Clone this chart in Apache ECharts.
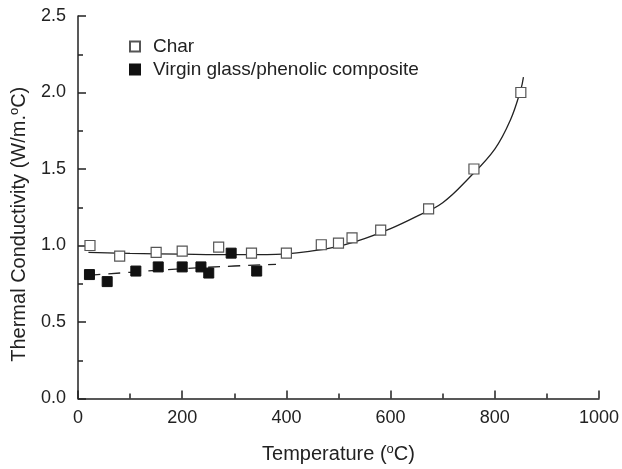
<!DOCTYPE html>
<html>
<head>
<meta charset="utf-8">
<script src="https://cdn.jsdelivr.net/npm/echarts@6/dist/echarts.min.js"></script>
<style>html,body{margin:0;padding:0;background:#fff;}#c{width:622px;height:469px;}</style>
</head>
<body>
<div id="c"></div>
<script>
// Measured data: Char (open squares)
var charData = [[23,1.00],[80,0.93],[150,0.955],[200,0.963],[270,0.99],[333,0.95],[400,0.95],[467,1.005],[500,1.015],[526,1.05],[581,1.10],[673,1.24],[760,1.50],[850,2.00]];
// Virgin glass/phenolic composite (filled squares)
var virginData = [[22,0.81],[56,0.764],[111,0.833],[154,0.86],[200,0.86],[236,0.86],[251,0.82],[294,0.95],[343,0.833]];
// Fit curve for char
var charFit = [[20,0.955],[100,0.948],[200,0.943],[300,0.940],[380,0.942],[450,0.965],[500,0.995],[550,1.045],[600,1.11],[650,1.19],[700,1.28],[750,1.44],[800,1.63],[830,1.82],[850,2.02],[855,2.10]];
// Fit line for virgin
var virginFit = [[20,0.805],[100,0.825],[200,0.848],[300,0.866],[380,0.877]];
var xTicks = [0,200,400,600,800,1000];
var yTicks = [0.0,0.5,1.0,1.5,2.0,2.5];

var FONT = 'Liberation Sans, Arial, sans-serif';
var chart = echarts.init(document.getElementById('c'), null, {renderer:'canvas'});
chart.setOption({
  animation:false,
  backgroundColor:'#fff',
  grid:{left:75,right:22,top:16,bottom:68},
  legend:{
    orient:'vertical', left:124, top:32, itemGap:4, itemWidth:10, itemHeight:10,
    textStyle:{fontFamily:FONT,fontSize:19,color:'#222',padding:[0,0,0,8]},
    data:['Char','Virgin glass/phenolic composite']
  },
  xAxis:{
    type:'value', min:xTicks[0], max:xTicks[xTicks.length-1], interval:200,
    axisLine:{lineStyle:{color:'#222',width:1.5}},
    axisTick:{inside:true,length:8,lineStyle:{color:'#222',width:1.5}},
    minorTick:{show:true,splitNumber:2,length:5,lineStyle:{color:'#222',width:1.5}},
    splitLine:{show:false},
    axisLabel:{fontFamily:FONT,fontSize:18,color:'#222',margin:11,formatter:function(v){return String(v);}},
    name:'{a|Temperature (}{s|o}{a|C)}', nameLocation:'middle', nameGap:44,
    nameTextStyle:{rich:{a:{fontFamily:FONT,fontSize:20,color:'#222'},s:{fontFamily:FONT,fontSize:13,color:'#222',padding:[0,0,10,0]}}}
  },
  yAxis:{
    type:'value', min:yTicks[0], max:yTicks[yTicks.length-1], interval:0.5,
    axisLine:{lineStyle:{color:'#222',width:1.5}},
    axisTick:{inside:true,length:8,lineStyle:{color:'#222',width:1.5}},
    minorTick:{show:true,splitNumber:2,length:5,lineStyle:{color:'#222',width:1.5}},
    splitLine:{show:false},
    axisLabel:{fontFamily:FONT,fontSize:18,color:'#222',margin:12,formatter:function(v){return v.toFixed(1);}},
    name:'{a|Thermal Conductivity (W/m.}{s|o}{a|C)}', nameLocation:'middle', nameGap:47,
    nameTextStyle:{padding:[0,34,0,0],rich:{a:{fontFamily:FONT,fontSize:20,color:'#222'},s:{fontFamily:FONT,fontSize:13,color:'#222',padding:[0,0,10,0]}}}
  },
  series:[
    {name:'charFit',type:'line',data:charFit,smooth:0.4,showSymbol:false,symbol:'none',lineStyle:{color:'#222',width:1.3},z:2,silent:true},
    {name:'virginFit',type:'line',data:virginFit,smooth:true,showSymbol:false,symbol:'none',lineStyle:{color:'#222',width:1.3,type:[12,8]},z:2,silent:true},
    {name:'Char',type:'scatter',data:charData,symbol:'rect',symbolSize:10,itemStyle:{color:'#fff',borderColor:'#555',borderWidth:1.2,opacity:1},z:3},
    {name:'Virgin glass/phenolic composite',type:'scatter',data:virginData,symbol:'rect',symbolSize:10,itemStyle:{color:'#111',borderColor:'#111',borderWidth:1,opacity:1},z:4}
  ]
});
</script>
</body>
</html>
